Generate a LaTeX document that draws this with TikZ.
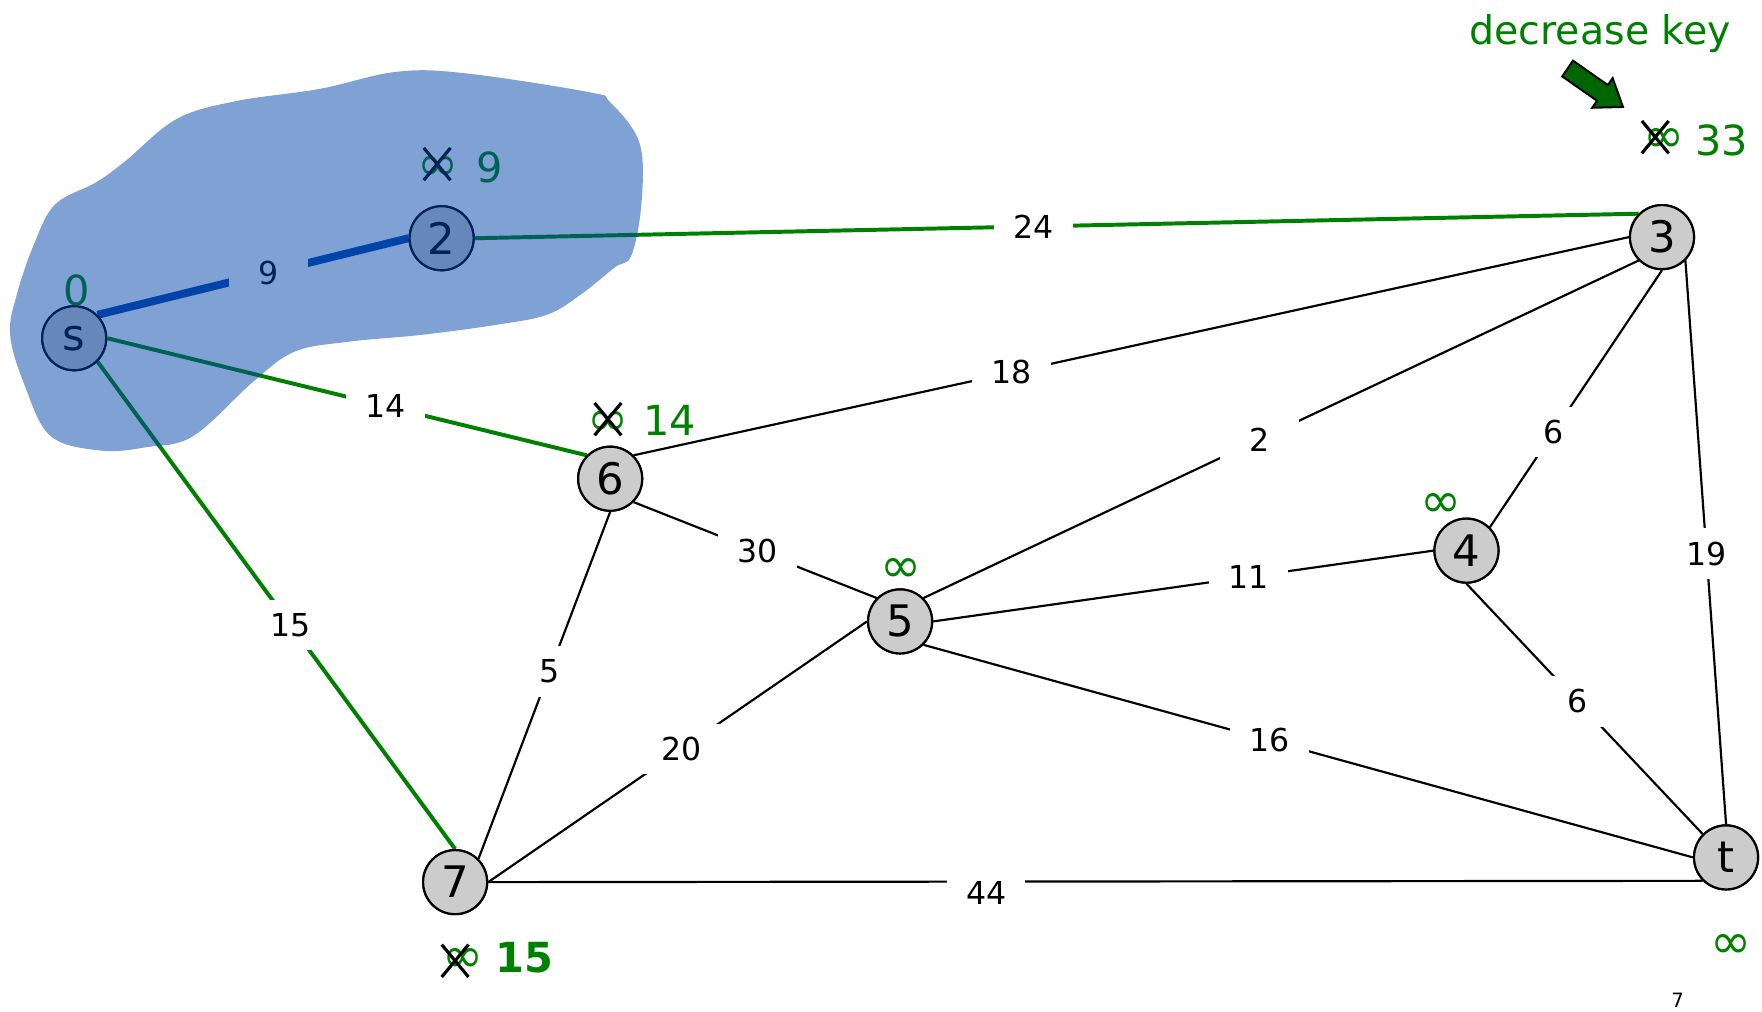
\documentclass[tikz,border=0pt]{standalone}
\usepackage{fontspec}
\setmainfont{DejaVu Sans}
\usetikzlibrary{shapes.misc}
\definecolor{keygreen}{RGB}{0,128,0}
\definecolor{treeblue}{RGB}{0,68,170}
\definecolor{nodegray}{RGB}{204,204,204}
\definecolor{arrowgreen}{RGB}{0,102,0}
\tikzset{
  vertex/.style={circle, draw, line width=1.1pt, fill=nodegray, minimum size=1.14cm, inner sep=0pt, font=\fontsize{22}{22}\selectfont},
  wt/.style={fill=white, text=black, minimum width=1.4cm, minimum height=0.9cm, inner sep=0pt, font=\fontsize{16}{16}\selectfont},
  plain/.style={line width=1.1pt},
  grn/.style={keygreen, line width=2pt},
  blu/.style={treeblue, line width=4pt},
  dist/.style={text=keygreen, font=\fontsize{21}{21}\selectfont},
  inf/.style={text=keygreen, inner sep=0pt, font=\fontsize{25}{25}\selectfont},
  crossed/.style={cross out, draw, line width=1.6pt, minimum width=0.42cm, minimum height=0.52cm, inner sep=0pt},
}
\begin{document}
\begin{tikzpicture}[x=0.02cm, y=-0.02cm]
\useasboundingbox (0,0) rectangle (1568,900);

% vertices
\node[vertex] (s) at (66,301) {s};
\node[vertex] (2) at (393,212) {2};
\node[vertex] (3) at (1479,211) {3};
\node[vertex] (6) at (543,426) {6};
\node[vertex] (5) at (801,553) {5};
\node[vertex] (4) at (1305,490) {4};
\node[vertex] (7) at (405,785) {7};
\node[vertex] (t) at (1536,763) {t};

% edges
\draw[blu] (s.north east) -- node[wt, pos=0.55]{9} (2.west);
\draw[grn] (s.east) -- node[wt, pos=0.58]{14} (6.north west);
\draw[grn] (s.south east) -- node[wt, pos=0.54]{15} (7.north);
\draw[grn] (2.east) -- node[wt, pos=0.48]{24} (3.north west);
\draw[plain] (6.north east) -- node[wt, pos=0.38]{18} (3.west);
\draw[plain] (5.north east) -- node[wt, pos=0.47]{2} (3.south west);
\draw[plain] (4.north east) -- node[wt, pos=0.37]{6} (3.south);
\draw[plain] (3.south east) -- node[wt, pos=0.52]{19} (t.north);
\draw[plain] (6.south east) -- node[wt, pos=0.51]{30} (5.north west);
\draw[plain] (6.south) -- node[wt, pos=0.46]{5} (7.north east);
\draw[plain] (5.east) -- node[wt, pos=0.63]{11} (4.west);
\draw[plain] (5.south east) -- node[wt, pos=0.45]{16} (t.west);
\draw[plain] (5.west) -- node[wt, pos=0.49]{20} (7.east);
\draw[plain] (4.south) -- node[wt, pos=0.47]{6} (t.north west);
\draw[plain] (7.east) -- node[wt, pos=0.41, yshift=-0.2cm]{44} (t.south west);
\foreach \v in {s,2,3,6,5,4,7,t} \node[vertex] at (\v) {\v};

% distances
\node[dist] (ds) at (68,258) {0};
\node[inf] (d2inf) at (390,150) {∞};
\node[crossed] (d2x) at (389,146) {};
\node[dist] (d2) at (436,149) {9};
\node[inf] (d6inf) at (541,377) {∞};
\node[crossed] (d6x) at (541,373) {};
\node[dist] (d6) at (596,374) {14};
\node[inf] (d5inf) at (802,508) {∞};
\node[inf] (d4inf) at (1282,450) {∞};
\node[inf] (d3inf) at (1481,125) {∞};
\node[crossed] (d3x) at (1473,122) {};
\node[dist] (d3) at (1532,125) {33};
\node[inf] (d7inf) at (412,855) {∞};
\node[crossed] (d7x) at (405,855) {};
\node[dist, font=\fontsize{21}{21}\selectfont\bfseries] (d7) at (467,852) {15};
\node[inf] (dtinf) at (1540,842) {∞};

\node[text=keygreen, font=\fontsize{20}{20}\selectfont] (hint) at (1424,30) {decrease key};
\draw[fill=arrowgreen, line width=1pt] (1390.2,68.0) -- (1421.2,89.7) -- (1416.9,95.9) -- (1444.3,95.2)
  -- (1435.1,69.5) -- (1430.8,75.7) -- (1399.8,54.0) -- cycle;

\node[font=\fontsize{10}{10}\selectfont] (pagenum) at (1493,890) {7};

% explored set
\fill[treeblue, fill opacity=0.5] plot[smooth cycle, tension=0.6] coordinates {
  (352,64) (412,65) (524,82) (543,91) (569,127) (571,179) (562,227) (547,238)
  (517,262) (487,280) (442,289) (375,298) (311,304) (262,313) (225,340) (172,388)
  (130,398) (90,401) (45,388) (22,343) (9,298) (15,262) (30,218) (49,182)
  (86,162) (112,143) (157,106) (210,90) (285,79)};
\end{tikzpicture}
\end{document}
